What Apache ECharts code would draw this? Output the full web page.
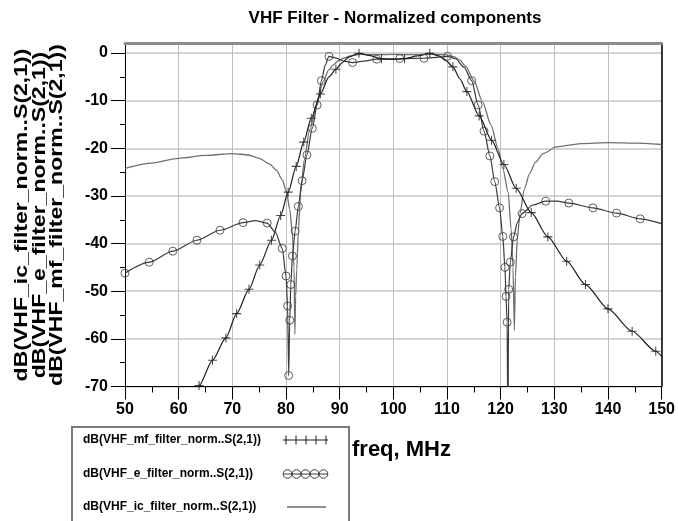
<!DOCTYPE html>
<html><head><meta charset="utf-8">
<script src="https://cdn.jsdelivr.net/npm/echarts@6/dist/echarts.min.js"></script>
<style>html,body{margin:0;padding:0;background:#fff}#c{width:678px;height:521px}</style>
</head><body><div id="c"></div>
<script>
const titleText = 'VHF Filter - Normalized components';
const xAxisTitle = 'freq, MHz';
const legendNames = ['dB(VHF_mf_filter_norm..S(2,1))', 'dB(VHF_e_filter_norm..S(2,1))', 'dB(VHF_ic_filter_norm..S(2,1))'];
const yTitleLines = ['dB(VHF_ic_filter_norm..S(2,1))', 'dB(VHF_e_filter_norm..S(2,1))', 'dB(VHF_mf_filter_norm..S(2,1))'];
const yTickValues = [-70, -60, -50, -40, -30, -20, -10, 0];
const yMinorTickValues = [-65, -55, -45, -35, -25, -15, -5];

const mfCurve = [[61,-76],[63.8,-69.8],[66.3,-64.5],[68.8,-59.8],[70.8,-54.7],[73.1,-49.6],[75.1,-44.5],[77.3,-39.3],[79.0,-34.1],[80.4,-29.2],[81.9,-23.8],[83.3,-18.7],[84.7,-13.7],[86.4,-8.6],[88.0,-5.0],[89.3,-3.4],[90.5,-2.0],[91.8,-0.8],[93.6,-0.05],[95.5,-0.5],[97.8,-1.2],[100,-1.35],[102.1,-1.2],[104.5,-0.6],[106.8,-0.05],[108.5,-0.6],[109.8,-1.6],[111.1,-2.9],[112.4,-5.4],[113.7,-8.1],[116.0,-13.2],[118.3,-18.3],[120.6,-23.4],[122.9,-28.4],[125.7,-33.5],[128.8,-38.6],[132.3,-43.7],[135.8,-48.6],[140,-53.7],[144.5,-58.4],[148.9,-62.6],[150,-63.7]];
const mfMarks = [[63.8,-69.8],[66.3,-64.5],[68.8,-59.8],[70.8,-54.7],[73.1,-49.6],[75.1,-44.5],[77.3,-39.3],[79.0,-34.1],[80.4,-29.2],[81.9,-23.8],[83.3,-18.7],[84.7,-13.7],[86.4,-8.6],[89.3,-3.4],[93.6,-0.05],[97.8,-1.2],[102.1,-1.2],[106.8,-0.05],[111.1,-2.9],[113.7,-8.1],[116.0,-13.2],[118.3,-18.3],[120.6,-23.4],[122.9,-28.4],[125.7,-33.5],[128.8,-38.6],[132.3,-43.7],[135.8,-48.6],[140,-53.7],[144.5,-58.4],[148.9,-62.6]];

const eCurve = [[50,-46.2],[54.5,-43.9],[58.9,-41.6],[63.4,-39.3],[67.7,-37.2],[72.0,-35.6],[74.3,-35.2],[76.5,-35.7],[78.0,-37.6],[79.3,-41.0],[80.0,-46.8],[80.3,-53.1],[80.5,-67.7],[80.7,-56.1],[80.9,-48.6],[81.2,-42.6],[81.7,-37.4],[82.3,-32.2],[83.0,-26.8],[83.9,-21.4],[84.9,-15.8],[85.8,-10.9],[86.6,-5.8],[87.3,-2.6],[88.0,-0.7],[89.2,-1.0],[90.8,-1.7],[92.4,-2.0],[94.5,-1.7],[96.9,-1.3],[101.2,-1.15],[105.7,-1.1],[108.0,-0.9],[110.1,-0.7],[111.6,-1.2],[113.2,-3.0],[114.6,-5.8],[115.8,-10.9],[116.9,-16.4],[118.0,-21.6],[118.9,-27.0],[119.8,-32.5],[120.4,-38.5],[120.8,-45.0],[121.0,-51.1],[121.2,-56.5],[121.35,-80],[121.5,-49.6],[121.8,-43.9],[122.4,-38.6],[123.1,-35.6],[124.0,-33.7],[126.0,-31.9],[128.4,-31.1],[130.5,-31.1],[132.7,-31.5],[137.2,-32.5],[141.6,-33.6],[146.0,-34.8],[150,-35.8]];
const eMarks = [[50,-46.2],[54.5,-43.9],[58.9,-41.6],[63.4,-39.3],[67.7,-37.2],[72.0,-35.6],[76.5,-35.7],[79.3,-41.0],[80.0,-46.8],[80.3,-53.1],[80.5,-67.7],[80.7,-56.1],[80.9,-48.6],[81.2,-42.6],[81.7,-37.4],[82.3,-32.2],[83.0,-26.8],[83.9,-21.4],[84.9,-15.8],[85.8,-10.9],[86.6,-5.8],[88.0,-0.7],[92.4,-2.0],[96.9,-1.3],[101.2,-1.15],[105.7,-1.1],[110.1,-0.7],[114.6,-5.8],[115.8,-10.9],[116.9,-16.4],[118.0,-21.6],[118.9,-27.0],[119.8,-32.5],[120.4,-38.5],[120.8,-45.0],[121.0,-51.1],[121.2,-56.5],[121.5,-49.6],[121.8,-43.9],[122.4,-38.6],[124.0,-33.7],[128.4,-31.1],[132.7,-31.5],[137.2,-32.5],[141.6,-33.6],[146.0,-34.8]];

const icCurve = [[50,-24.2],[55,-23.1],[60,-22.1],[65,-21.5],[70,-21.1],[73,-21.4],[75,-22.1],[77,-23.3],[78.2,-24.6],[79.3,-26.6],[80.1,-29.2],[80.7,-32.8],[81.2,-38.0],[81.5,-45.0],[81.65,-59.0],[81.8,-51.0],[82.0,-45.5],[82.3,-37.5],[82.7,-29.5],[83.4,-22.5],[84.4,-16.2],[85.7,-10.9],[86.9,-6.0],[88.0,-3.5],[88.8,-2.5],[89.8,-1.6],[90.7,-1.1],[92.0,-0.6],[93.8,-0.3],[97,-0.35],[100,-0.3],[103,-0.35],[105.6,-0.3],[108,-0.3],[109.9,-0.4],[111.4,-0.8],[112.4,-1.5],[113.5,-2.8],[115.1,-6.0],[116.6,-10.2],[118.2,-15.1],[119.5,-20.0],[120.4,-24.2],[121.4,-29.2],[121.95,-37],[122.3,-45],[122.55,-58.2],[122.75,-47],[123.1,-39],[123.6,-33.7],[124.4,-28.6],[125.4,-25.3],[126.5,-22.9],[127.9,-21.1],[130.4,-19.7],[135,-19.0],[140.3,-18.8],[145,-18.9],[150,-19.2]];

const FONT = "'Liberation Sans', Arial, Helvetica, sans-serif";
const plusPath = 'path://M0,44H100V56H0ZM44,0H56V100H44Z';

const chart = echarts.init(document.getElementById('c'), null, {renderer: 'canvas'});

const graphics = [];
graphics.push({type: 'text', x: 395, y: 18, style: {text: titleText, font: 'bold 17px ' + FONT, fill: '#000', align: 'center', verticalAlign: 'middle'}});
const yTitleX = [22, 40, 57];
yTitleLines.forEach((t, i) => {
  graphics.push({type: 'text', x: yTitleX[i], y: 215, rotation: Math.PI / 2, scaleX: 1.28,
    style: {text: t, font: 'bold 18px ' + FONT, fill: '#000', align: 'center', verticalAlign: 'middle'}});
});
graphics.push({type: 'text', x: 352, y: 450, style: {text: xAxisTitle, font: 'bold 22px ' + FONT, fill: '#000', align: 'left', verticalAlign: 'middle'}});
// legend box
graphics.push({type: 'rect', shape: {x: 72, y: 427, width: 277, height: 120}, style: {fill: 'none', stroke: '#7a7a7a', lineWidth: 2}});
const rowY = [440, 474, 507];
legendNames.forEach((t, i) => {
  graphics.push({type: 'text', x: 83, y: rowY[i], style: {text: t, font: 'bold 12px ' + FONT, fill: '#000', align: 'left', verticalAlign: 'middle'}});
});
graphics.push({type: 'line', shape: {x1: 283, y1: rowY[0], x2: 328, y2: rowY[0]}, style: {stroke: '#1e1e1e', lineWidth: 1}});
for (let k = 0; k < 5; k++) {
  const cx = 286 + k * 10;
  graphics.push({type: 'line', shape: {x1: cx, y1: rowY[0] - 4.5, x2: cx, y2: rowY[0] + 4.5}, style: {stroke: '#1e1e1e', lineWidth: 1}});
}
graphics.push({type: 'line', shape: {x1: 283, y1: rowY[1], x2: 328, y2: rowY[1]}, style: {stroke: '#3a3a3a', lineWidth: 1}});
for (let k = 0; k < 5; k++) {
  graphics.push({type: 'circle', shape: {cx: 287.5 + k * 9, cy: rowY[1], r: 4.3}, style: {fill: 'none', stroke: '#3a3a3a', lineWidth: 1}});
}
graphics.push({type: 'line', shape: {x1: 287, y1: rowY[2], x2: 326, y2: rowY[2]}, style: {stroke: '#1e1e1e', lineWidth: 1}});

const lineBase = {type: 'line', showSymbol: false, smooth: 0.25, smoothMonotone: 'x', clip: true, silent: true, animation: false};

chart.setOption({
  animation: false,
  backgroundColor: '#fff',
  grid: {left: 125, right: 15.5, top: 43.5, bottom: 134.5, containLabel: false},
  xAxis: [{
    type: 'value', min: 50, max: 150, interval: 10, position: 'bottom',
    axisLine: {show: true, onZero: false, lineStyle: {color: '#000', width: 1}},
    axisTick: {show: true, length: 13, lineStyle: {color: '#000', width: 1}},
    minorTick: {show: true, splitNumber: 2, length: 6, lineStyle: {color: '#000', width: 1}},
    axisLabel: {fontFamily: FONT, fontSize: 16, fontWeight: 'bold', color: '#000', margin: 15},
    splitLine: {show: true, lineStyle: {color: '#bdbdbd', width: 1}},
    minorSplitLine: {show: false}
  }, {
    type: 'value', min: 50, max: 150, position: 'top',
    axisLine: {show: true, onZero: false, lineStyle: {color: '#8c8c8c', width: 3}},
    axisTick: {show: false}, axisLabel: {show: false}, splitLine: {show: false}
  }],
  yAxis: [{
    type: 'value', min: -70, max: 2, interval: 10, position: 'left',
    axisLine: {show: true, onZero: false, lineStyle: {color: '#000', width: 1}},
    axisTick: {show: true, customValues: yTickValues, length: 14, lineStyle: {color: '#000', width: 1}},
    axisLabel: {customValues: yTickValues, fontFamily: FONT, fontSize: 16, fontWeight: 'bold', color: '#000', margin: 17},
    splitLine: {show: true, lineStyle: {color: '#d4d4d4', width: 2}}
  }, {
    type: 'value', min: -70, max: 2, position: 'left',
    axisLine: {show: false},
    axisTick: {show: true, customValues: yMinorTickValues, length: 5, lineStyle: {color: '#000', width: 1}},
    axisLabel: {show: false}, splitLine: {show: false}
  }, {
    type: 'value', min: -70, max: 2, position: 'right',
    axisLine: {show: true, onZero: false, lineStyle: {color: '#000', width: 1.5}},
    axisTick: {show: false}, axisLabel: {show: false}, splitLine: {show: false}
  }],
  graphic: graphics,
  series: [
    Object.assign({}, lineBase, {name: legendNames[2], data: icCurve, lineStyle: {color: '#707070', width: 1.3}, z: 2}),
    Object.assign({}, lineBase, {name: legendNames[1], data: eCurve, lineStyle: {color: '#3a3a3a', width: 1.2}, z: 3}),
    Object.assign({}, lineBase, {name: legendNames[0], data: mfCurve, lineStyle: {color: '#1e1e1e', width: 1.2}, z: 4}),
    {type: 'scatter', data: eMarks, symbol: 'circle', symbolSize: 8, silent: true, z: 5,
      itemStyle: {color: 'rgba(0,0,0,0)', borderColor: '#3a3a3a', borderWidth: 1}},
    {type: 'scatter', data: mfMarks, symbol: plusPath, symbolSize: 9, silent: true, z: 6,
      itemStyle: {color: '#1e1e1e'}}
  ]
});
</script>
</body></html>
